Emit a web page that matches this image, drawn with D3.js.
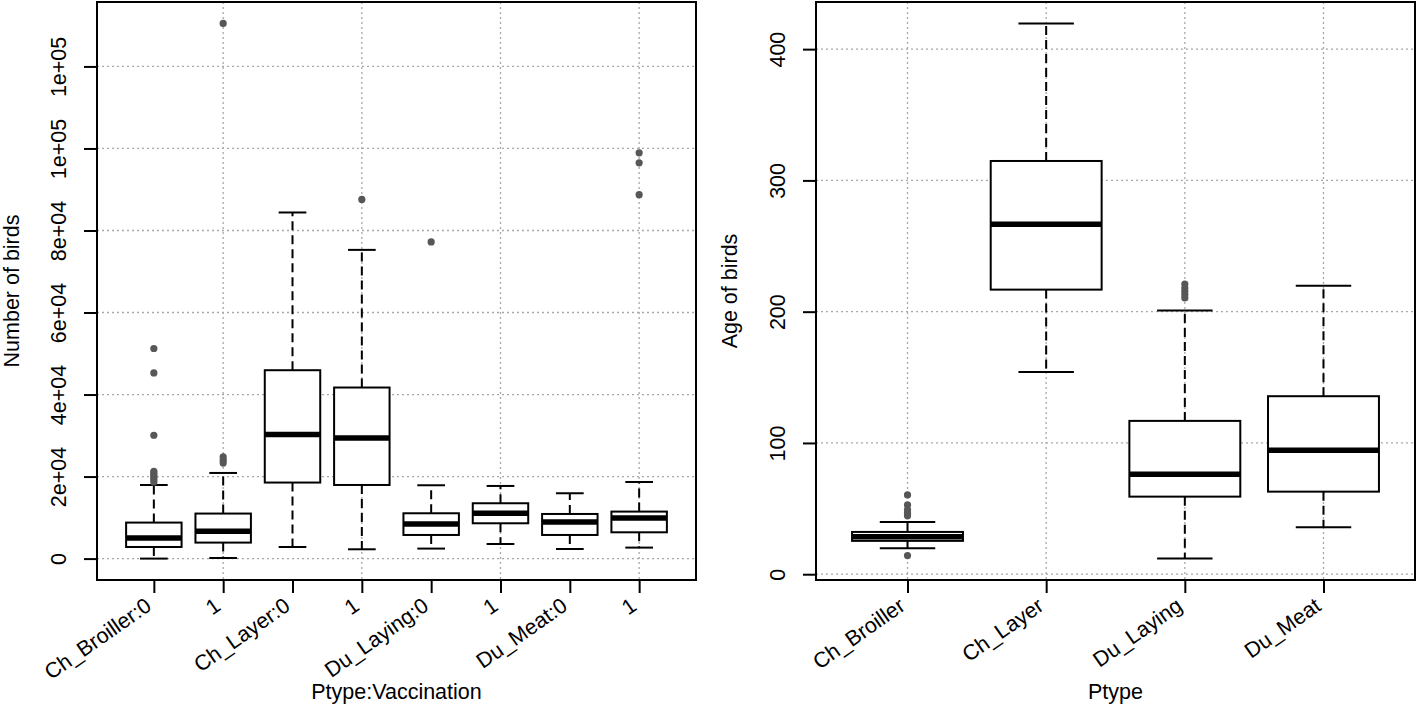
<!DOCTYPE html>
<html>
<head>
<meta charset="utf-8">
<script src="https://cdn.jsdelivr.net/npm/d3@7/dist/d3.min.js"></script>
<style>
  html, body { margin: 0; padding: 0; background: #fff; }
  svg { display: block; }
  text { font-family: "Liberation Sans", Arial, Helvetica, sans-serif; font-size: 21.5px; fill: #000; }
</style>
</head>
<body>
<svg id="chart" width="1418" height="709"></svg>
<script>
// ---------- Left panel data: Number of birds by Ptype:Vaccination ----------
const leftCategories = ["Ch_Broiller:0", "1", "Ch_Layer:0", "1", "Du_Laying:0", "1", "Du_Meat:0", "1"];
const leftLowerWhisker = [0, 150, 2830, 2270, 2440, 3560, 2340, 2680];
const leftQ1 = [2830, 3900, 18540, 17950, 5760, 8610, 5760, 6410];
const leftMedian = [5020, 6660, 30240, 29420, 8440, 11050, 8930, 9900];
const leftQ3 = [8780, 10980, 45930, 41710, 11050, 13490, 10880, 11460];
const leftUpperWhisker = [17950, 20880, 84390, 75270, 17880, 17710, 15930, 18680];
const leftOutliers = [
  [18700, 19300, 19800, 20300, 20800, 21300, 30070, 45270, 51220],
  [23300, 24000, 24800, 130490],
  [],
  [87570],
  [77220],
  [],
  [],
  [88740, 96490, 98930]
];
const leftTickValues = [0, 20000, 40000, 60000, 80000, 100000, 120000];
const leftTickLabels = ["0", "2e+04", "4e+04", "6e+04", "8e+04", "1e+05", "1e+05"];
const leftXGrid = [2, 4, 6, 8];
const leftXTitle = "Ptype:Vaccination";
const leftYTitle = "Number of birds";

// ---------- Right panel data: Age of birds by Ptype ----------
const rightCategories = ["Ch_Broiller", "Ch_Layer", "Du_Laying", "Du_Meat"];
const rightLowerWhisker = [19.8, 154.1, 11.9, 35.8];
const rightQ1 = [25.4, 216.8, 59.1, 62.9];
const rightMedian = [28.5, 266.6, 76.2, 94.4];
const rightQ3 = [32.2, 314.8, 116.8, 135.6];
const rightUpperWhisker = [39.8, 419.6, 200.8, 219.8];
const rightOutliers = [
  [14.2, 44.5, 46.5, 49, 52.8, 60.4],
  [],
  [210.5, 213, 215.5, 218, 221],
  []
];
const rightTickValues = [0, 100, 200, 300, 400];
const rightTickLabels = ["0", "100", "200", "300", "400"];
const rightXGrid = [1, 2, 3, 4];
const rightXTitle = "Ptype";
const rightYTitle = "Age of birds";

const svg = d3.select("#chart");

function drawPanel(opts) {
  const { left, right, top, bottom, cats, lw, q1, med, q3, uw, outs, tickVals, tickLabels, xGrid, xTitle, yTitle, yTitleX } = opts;
  const n = cats.length;
  const g = svg.append("g");

  // R-style axis ranges (4% extension)
  const allVals = lw.concat(uw, ...outs);
  const dmin = d3.min(allVals), dmax = d3.max(allVals);
  const pad = (dmax - dmin) * 0.04;
  const y = d3.scaleLinear().domain([dmin - pad, dmax + pad]).range([bottom, top]);
  const xpad = n * 0.04;
  const x = d3.scaleLinear().domain([0.5 - xpad, n + 0.5 + xpad]).range([left, right]);

  // Grid
  const gridStyle = s => s.attr("stroke", "#a8a8a8").attr("stroke-width", 1.3).attr("stroke-dasharray", "2,3").attr("fill", "none");
  g.append("g").selectAll("line").data(tickVals).join("line")
    .attr("x1", left).attr("x2", right).attr("y1", d => y(d)).attr("y2", d => y(d)).call(gridStyle);
  g.append("g").selectAll("line").data(xGrid).join("line")
    .attr("x1", d => x(d)).attr("x2", d => x(d)).attr("y1", top).attr("y2", bottom).call(gridStyle);

  const idx = d3.range(n);
  const boxHalf = 0.4, stapleHalf = 0.2;
  const bg = g.append("g");

  // whiskers (dashed)
  bg.append("g").selectAll("line").data(idx).join("line")
    .attr("x1", i => x(i + 1)).attr("x2", i => x(i + 1))
    .attr("y1", i => y(q3[i])).attr("y2", i => y(uw[i]))
    .attr("stroke", "#000").attr("stroke-width", 2).attr("stroke-dasharray", "9,5");
  bg.append("g").selectAll("line").data(idx).join("line")
    .attr("x1", i => x(i + 1)).attr("x2", i => x(i + 1))
    .attr("y1", i => y(q1[i])).attr("y2", i => y(lw[i]))
    .attr("stroke", "#000").attr("stroke-width", 2).attr("stroke-dasharray", "9,5");
  // staples
  bg.append("g").selectAll("line").data(idx).join("line")
    .attr("x1", i => x(i + 1 - stapleHalf)).attr("x2", i => x(i + 1 + stapleHalf))
    .attr("y1", i => y(uw[i])).attr("y2", i => y(uw[i]))
    .attr("stroke", "#000").attr("stroke-width", 2);
  bg.append("g").selectAll("line").data(idx).join("line")
    .attr("x1", i => x(i + 1 - stapleHalf)).attr("x2", i => x(i + 1 + stapleHalf))
    .attr("y1", i => y(lw[i])).attr("y2", i => y(lw[i]))
    .attr("stroke", "#000").attr("stroke-width", 2);
  // boxes
  bg.append("g").selectAll("rect").data(idx).join("rect")
    .attr("x", i => x(i + 1 - boxHalf)).attr("width", i => x(i + 1 + boxHalf) - x(i + 1 - boxHalf))
    .attr("y", i => y(q3[i])).attr("height", i => y(q1[i]) - y(q3[i]))
    .attr("fill", "#fff").attr("stroke", "#000").attr("stroke-width", 2);
  // medians
  bg.append("g").selectAll("line").data(idx).join("line")
    .attr("x1", i => x(i + 1 - boxHalf)).attr("x2", i => x(i + 1 + boxHalf))
    .attr("y1", i => y(med[i])).attr("y2", i => y(med[i]))
    .attr("stroke", "#000").attr("stroke-width", 5.5);
  // outliers
  const outPts = [];
  outs.forEach((arr, i) => arr.forEach(v => outPts.push({ i, v })));
  bg.append("g").selectAll("circle").data(outPts).join("circle")
    .attr("cx", d => x(d.i + 1)).attr("cy", d => y(d.v)).attr("r", 3.6)
    .attr("fill", "#575757");

  // Y axis
  const yAxis = g.append("g").attr("transform", `translate(${left},0)`)
    .call(d3.axisLeft(y).tickValues(tickVals).tickFormat((d, i) => tickLabels[i]).tickSize(13));
  yAxis.attr("font-size", null).attr("font-family", null);
  yAxis.select(".domain").remove();
  yAxis.selectAll(".tick line").attr("stroke", "#000").attr("stroke-width", 2);
  yAxis.selectAll(".tick text")
    .attr("x", null).attr("dy", null).attr("text-anchor", "middle").attr("fill", "#000")
    .attr("transform", "translate(-31,0) rotate(-90)");

  // X axis
  const xAxis = g.append("g").attr("transform", `translate(0,${bottom})`)
    .call(d3.axisBottom(x).tickValues(d3.range(1, n + 1)).tickFormat("").tickSize(13));
  xAxis.select(".domain").remove();
  xAxis.selectAll(".tick line").attr("stroke", "#000").attr("stroke-width", 2);
  g.append("g").selectAll("text").data(idx).join("text")
    .attr("text-anchor", "end")
    .attr("transform", i => `translate(${x(i + 1) - 1},609) rotate(-35)`)
    .text(i => cats[i]);

  // Frame
  g.append("rect").attr("x", left).attr("y", top).attr("width", right - left).attr("height", bottom - top)
    .attr("fill", "none").attr("stroke", "#000").attr("stroke-width", 2);

  // Titles
  g.append("text").attr("text-anchor", "middle")
    .attr("x", (left + right) / 2).attr("y", 699).text(xTitle);
  g.append("text").attr("text-anchor", "middle")
    .attr("transform", `translate(${yTitleX},${(top + bottom) / 2}) rotate(-90)`).text(yTitle);
}

drawPanel({
  left: 97, right: 696, top: 2, bottom: 580,
  cats: leftCategories, lw: leftLowerWhisker, q1: leftQ1, med: leftMedian, q3: leftQ3, uw: leftUpperWhisker,
  outs: leftOutliers, tickVals: leftTickValues, tickLabels: leftTickLabels, xGrid: leftXGrid,
  xTitle: leftXTitle, yTitle: leftYTitle, yTitleX: 18.5
});
drawPanel({
  left: 816, right: 1415, top: 2, bottom: 580,
  cats: rightCategories, lw: rightLowerWhisker, q1: rightQ1, med: rightMedian, q3: rightQ3, uw: rightUpperWhisker,
  outs: rightOutliers, tickVals: rightTickValues, tickLabels: rightTickLabels, xGrid: rightXGrid,
  xTitle: rightXTitle, yTitle: rightYTitle, yTitleX: 736.5
});
</script>
</body>
</html>
